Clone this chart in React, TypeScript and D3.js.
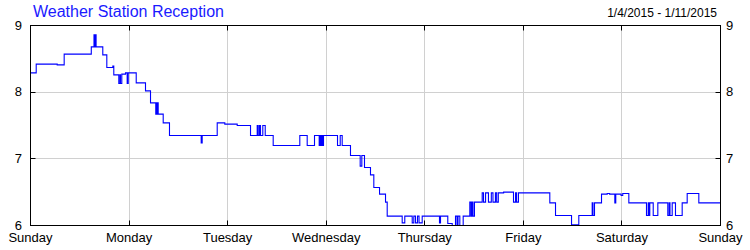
import React from "react";
import * as d3 from "d3";

const dayLabels = ["Sunday", "Monday", "Tuesday", "Wednesday", "Thursday", "Friday", "Saturday", "Sunday"];
const yTicks = [6, 7, 8, 9];
const titleText = "Weather Station Reception";
const rangeText = "1/4/2015 - 1/11/2015";

// hours since Sunday 00:00 at which the reading changed
const hours = [
  0, 1.39, 6.5, 8.2, 14.8, 15.46, 15.66, 15.78, 15.97, 17.6, 18.58, 20.04, 20.28, 21.5, 21.79, 21.91, 22.23,
  23.13, 23.54, 23.79, 25.74, 28.0, 29.22, 30.5, 30.65, 30.8, 30.95, 31.09, 32.31, 33.84, 41.56, 41.8, 45.46,
  47.31, 50.33, 53.57, 55.2, 55.44, 55.76, 56.0, 56.56, 57.15, 59.09, 65.57, 67.37, 69.15, 70.29, 70.44, 70.68,
  70.85, 71.1, 71.34, 74.75, 75.41, 75.89, 77.91, 80.27, 80.67, 81.32, 82.78, 83.59, 84.98, 86.44, 86.85, 90.5,
  91.13, 92.94, 93.33, 93.74, 94.23, 94.6, 95.37, 99.58, 99.83, 101.6, 102.68, 103.48, 103.85, 104.09, 104.53,
  105.35, 106.96, 107.25, 107.5, 107.74, 108.1, 109.98, 110.3, 110.8, 111.5, 112.2, 112.6, 113.2, 113.5, 113.9,
  115.2, 117.6, 118.1, 118.35, 118.8, 126.44, 127.83, 131.73, 133.5, 136.76, 136.95, 137.32, 139.03, 140.42,
  141.0, 142.27, 142.5, 143.8, 144.2, 145.68, 149.98, 150.4, 150.55, 150.78, 151.62, 152.74, 155.17, 155.5,
  155.7, 156.24, 157.04, 158.67, 159.89, 162.72, 168,
];
// reception value at each change
const reception = [
  8.29, 8.42, 8.41, 8.57, 8.68, 8.86, 8.68, 8.86, 8.68, 8.56, 8.37, 8.39, 8.26, 8.13, 8.26, 8.13, 8.27,
  8.29, 8.13, 8.29, 8.14, 8.02, 7.84, 7.67, 7.84, 7.67, 7.84, 7.67, 7.54, 7.35, 7.24, 7.35, 7.54,
  7.52, 7.5, 7.35, 7.5, 7.35, 7.5, 7.35, 7.5, 7.35, 7.2, 7.35, 7.2, 7.35, 7.2, 7.35, 7.2,
  7.35, 7.2, 7.35, 7.2, 7.35, 7.2, 7.05, 6.89, 7.05, 6.87, 6.76, 6.57, 6.47, 6.35, 6.14, 6.04,
  6.14, 6.04, 6.14, 6.04, 6.14, 6.04, 6.14, 6.04, 6.14, 6.03, 6.0, 6.14, 6.0, 6.14, 6.0,
  6.14, 6.35, 6.14, 6.35, 6.14, 6.35, 6.49, 6.35, 6.49, 6.35, 6.49, 6.35, 6.49, 6.35, 6.49,
  6.5, 6.35, 6.49, 6.35, 6.49, 6.34, 6.15, 6.01, 6.15, 6.34, 6.15, 6.34, 6.47, 6.48,
  6.47, 6.34, 6.47, 6.45, 6.48, 6.34, 6.15, 6.34, 6.15, 6.34, 6.15, 6.34, 6.15, 6.34,
  6.15, 6.34, 6.15, 6.34, 6.48, 6.34, 6.34,
];

const W = 750;
const H = 250;
const L = 30.5, R = 720.5, T = 25.5, B = 225.5;
const FONT = "Arial, 'Liberation Sans', sans-serif";

export default function App() {
  const x = d3.scaleLinear().domain([0, 168]).range([L, R]);
  const y = d3.scaleLinear().domain([6, 9]).range([B, T]);
  const data = hours.map((h, i) => [h, reception[i]] as [number, number]);
  const line = d3.line<[number, number]>().x((d) => x(d[0])).y((d) => y(d[1])).curve(d3.curveStepAfter);
  const dayTicks = dayLabels.map((_, i) => i * 24);
  const px = (v: number) => Math.round(v - 0.5) + 0.5;

  return (
    <svg width={W} height={H} style={{ position: "absolute", left: 0, top: 0, background: "#fff" }} fontFamily={FONT}>
      <rect x={0} y={0} width={W} height={H} fill="#fff" />
      {/* grid */}
      {dayTicks.slice(1, -1).map((h) => (
        <line key={"gx" + h} x1={px(x(h))} x2={px(x(h))} y1={T} y2={B} stroke="#d0d0d0" strokeWidth={1} />
      ))}
      {yTicks.slice(1, -1).map((v) => (
        <line key={"gy" + v} x1={L} x2={R} y1={px(y(v))} y2={px(y(v))} stroke="#d0d0d0" strokeWidth={1} />
      ))}
      {/* data */}
      <path d={line(data) || ""} fill="none" stroke="#0000ff" strokeWidth={1.1} />
      {/* frame */}
      <rect x={L} y={T} width={R - L} height={B - T} fill="none" stroke="#000" strokeWidth={1} />
      {/* ticks */}
      {dayTicks.slice(1, -1).map((h) => (
        <g key={"tx" + h}>
          <line x1={px(x(h))} x2={px(x(h))} y1={B} y2={B - 5} stroke="#000" />
          <line x1={px(x(h))} x2={px(x(h))} y1={T} y2={T + 5} stroke="#000" />
        </g>
      ))}
      {yTicks.slice(1, -1).map((v) => (
        <g key={"ty" + v}>
          <line x1={L} x2={L + 5} y1={px(y(v))} y2={px(y(v))} stroke="#000" />
          <line x1={R} x2={R - 5} y1={px(y(v))} y2={px(y(v))} stroke="#000" />
        </g>
      ))}
      {/* y labels */}
      {yTicks.map((v) => (
        <g key={"ly" + v}>
          <text x={22} y={y(v) - 0.5} dy="0.36em" textAnchor="end" fontSize={13} fill="#000">{v}</text>
          <text x={726} y={y(v) - 0.5} dy="0.36em" textAnchor="start" fontSize={13} fill="#000">{v}</text>
        </g>
      ))}
      {/* x labels */}
      {dayLabels.map((d, i) => (
        <text key={"lx" + i} x={x(dayTicks[i])} y={242} textAnchor="middle" fontSize={13} fill="#000">{d}</text>
      ))}
      <text x={33} y={17} fontSize={16} fill="#1a1aff">{titleText}</text>
      <text x={717} y={17} textAnchor="end" fontSize={12} fill="#000">{rangeText}</text>
    </svg>
  );
}
